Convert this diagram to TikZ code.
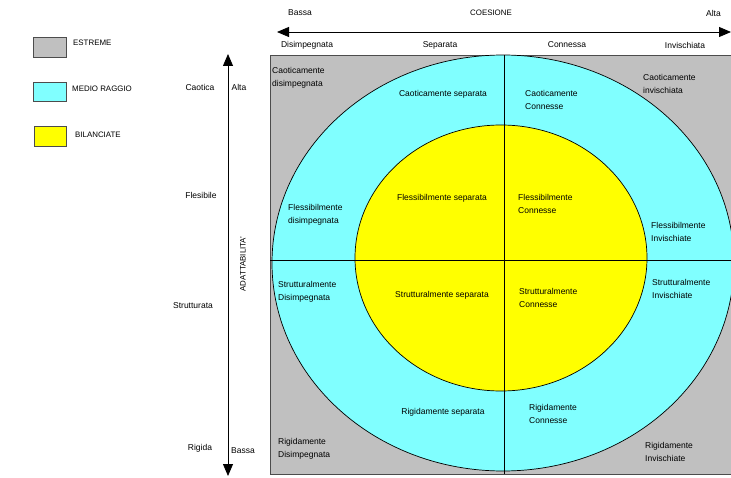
\documentclass[tikz,border=0pt]{standalone}
\usepackage{fontspec}
\setmainfont{Liberation Sans}
\usetikzlibrary{arrows.meta}
\definecolor{estgray}{HTML}{C0C0C0}
\definecolor{medcyan}{HTML}{80FFFF}
\definecolor{bilyellow}{HTML}{FFFF00}
\begin{document}
\begin{tikzpicture}[x=1pt,y=-1pt,
  lbl/.style={font=\fontsize{8.5}{13.5}\selectfont, align=left, inner sep=0pt},
  clbl/.style={font=\fontsize{8.5}{13.5}\selectfont, align=center, inner sep=0pt},
  caps/.style={font=\fontsize{7.9}{9}\selectfont, inner sep=0pt},
  legbox/.style={draw=black!70, line width=0.9pt},
  axis/.style={line width=0.8pt, {Triangle[length=12pt,width=10pt]}-{Triangle[length=12pt,width=10pt]}},
  divline/.style={line width=0.7pt, black},
  ell/.style={draw=black, line width=0.7pt}]
\clip (0,0) rectangle (731,478);
\fill[white] (0,0) rectangle (731,478);

% legend
\draw[legbox, fill=estgray] (33,37) rectangle (66,57);
\draw[legbox, fill=medcyan] (33,82) rectangle (66,101);
\draw[legbox, fill=bilyellow] (34,126) rectangle (66,146);
\node[caps, anchor=west] (lgE) at (73,43) {ESTREME};
\node[caps, anchor=west] (lgM) at (72,89) {MEDIO RAGGIO};
\node[caps, anchor=west] (lgB) at (75,135) {BILANCIATE};

% main square
\draw[draw=black!70, line width=0.9pt, fill=estgray] (270,55) rectangle (745,474);
\begin{scope}
  \clip (270,55) rectangle (745,474);
  \draw[ell, fill=medcyan] (503,263) ellipse [x radius=231pt, y radius=208pt];
  \draw[ell, fill=bilyellow] (501,258) ellipse [x radius=146pt, y radius=133pt];
  \draw[divline] (504,55) -- (504,474);
  \draw[divline] (270,260) -- (745,260);
\end{scope}

% axes
\coordinate (hA) at (277,32);
\coordinate (hB) at (731,32);
\coordinate (vA) at (228,54);
\coordinate (vB) at (228,476);
\draw[axis] (hA) -- (hB);
\draw[axis] (vB) -- (vA);

% top labels
\node[lbl, anchor=west] (tBassa) at (288,13) {Bassa};
\node[caps] (tCoes) at (491,13) {COESIONE};
\node[lbl, anchor=east] (tAlta) at (721,13) {Alta};
\node[lbl] (tDis) at (307,45) {Disimpegnata};
\node[lbl] (tSep) at (440,45) {Separata};
\node[lbl] (tCon) at (567,45) {Connessa};
\node[lbl] (tInv) at (685,45) {Invischiata};

% left labels
\node[lbl] (lCaot) at (200,87) {Caotica};
\node[lbl] (lAlta) at (239,87) {Alta};
\node[lbl] (lFles) at (201,195) {Flesibile};
\node[lbl] (lStru) at (193,306) {Strutturata};
\node[lbl] (lRig) at (200,448) {Rigida};
\node[lbl] (lBassa) at (243,451) {Bassa};
\node[caps, rotate=90] (lAdat) at (243,264) {ADATTABILITA'};

% region labels
\node[lbl, anchor=west] (r11) at (272,78) {Caoticamente\\disimpegnata};
\node[clbl] (r12) at (443,94) {Caoticamente separata};
\node[lbl, anchor=west] (r13) at (525,100) {Caoticamente\\Connesse};
\node[lbl, anchor=west] (r14) at (643,84) {Caoticamente\\invischiata};

\node[lbl, anchor=west] (r21) at (288,215) {Flessibilmente\\disimpegnata};
\node[clbl] (r22) at (442,198) {Flessibilmente separata};
\node[lbl, anchor=west] (r23) at (518,204) {Flessibilmente\\Connesse};
\node[lbl, anchor=west] (r24) at (651,232) {Flessibilmente\\Invischiate};

\node[lbl, anchor=west] (r31) at (278,292) {Strutturalmente\\Disimpegnata};
\node[clbl] (r32) at (442,295) {Strutturalmente separata};
\node[lbl, anchor=west] (r33) at (519,298) {Strutturalmente\\Connesse};
\node[lbl, anchor=west] (r34) at (652,289) {Strutturalmente\\Invischiate};

\node[lbl, anchor=west] (r41) at (278,449) {Rigidamente\\Disimpegnata};
\node[clbl] (r42) at (443,412) {Rigidamente separata};
\node[lbl, anchor=west] (r43) at (529,414) {Rigidamente\\Connesse};
\node[lbl, anchor=west] (r44) at (645,452) {Rigidamente\\Invischiate};
\end{tikzpicture}
\end{document}
